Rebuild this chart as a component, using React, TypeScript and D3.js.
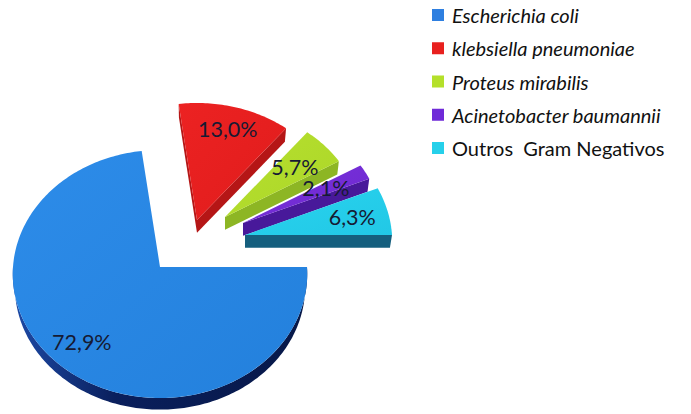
import React from "react";
import * as d3 from "d3";

const categories = [
  "Escherichia coli",
  "klebsiella pneumoniae",
  "Proteus mirabilis",
  "Acinetobacter baumannii",
  "Outros  Gram Negativos",
];
const values = [72.9, 13.0, 5.7, 2.1, 6.3];
const valueLabels = ["72,9%", "13,0%", "5,7%", "2,1%", "6,3%"];
const italicNames = [true, true, true, true, false];

// styling
const topColors = ["#2d8ce9", "#ec2222", "#b7e02f", "#7a32dc", "#29d3ee"];
const topColors2 = ["#2380dc", "#e01c1c", "#abd628", "#6d28cf", "#22c8e6"];
const sideColors = ["#0a1f5c", "#b51616", "#8db624", "#48199a", "#155f7e"];
const legendColors = ["#2e7fe0", "#e8201e", "#b4e02a", "#6f2ad8", "#26d0ea"];
// explosion shift (screen px) and radius scale per slice
const explodeDx = [0, 37, 65, 83, 85];
const explodeDy = [0, -47, -50, -44, -32];
const radiusScale = [1, 1, 0.92, 0.95, 1];
const labelRadius = [0.78, 0.8, 0.64, 0.64, 0.75];

const W = 691;
const H = 414;
const CX = 160;
const CY = 267;
const K = 147;
const SIN_A = 0.841;
const COS_A = 0.541;
const PERSP = 0.1044;
const THICK = 0.163;

function proj(theta: number, r: number, bottom: boolean, i: number): [number, number] {
  const s = radiusScale[i];
  const X = r * s * Math.sin(theta);
  const Z = r * s * Math.cos(theta);
  const Y = bottom ? -THICK : 0;
  const depth = 1 + PERSP * (Z * COS_A - Y * SIN_A);
  return [
    CX + explodeDx[i] + (K * X) / depth,
    CY + explodeDy[i] - (K * (Y * COS_A + Z * SIN_A)) / depth,
  ];
}

function arcPts(a0: number, a1: number, bottom: boolean, i: number) {
  const n = Math.max(2, Math.ceil(Math.abs(a1 - a0) / (Math.PI / 180)));
  const pts: [number, number][] = [];
  for (let k = 0; k <= n; k++) {
    const t = a0 + ((a1 - a0) * k) / n;
    pts.push(proj(t, 1, bottom, i));
  }
  return pts;
}

const line = d3.line();
const closed = (pts: [number, number][]) => (line(pts) || "") + "Z";

export default function App() {
  const arcs = d3
    .pie<number>()
    .sort(null)
    .startAngle(Math.PI / 2)
    .endAngle(Math.PI / 2 + 2 * Math.PI)(values);

  const drawOrder = [0, 1, 2, 3, 4];

  const slices = drawOrder.map((i) => {
    const a = arcs[i];
    const a0 = a.startAngle;
    const a1 = a.endAngle;
    const faces: JSX.Element[] = [];
    const TWO = 2 * Math.PI;
    for (let base = -TWO; base <= TWO * 2; base += TWO) {
      const f0 = Math.max(a0, base + Math.PI / 2);
      const f1 = Math.min(a1, base + (3 * Math.PI) / 2);
      if (f1 > f0) {
        const top = arcPts(f0, f1, false, i);
        const bot = arcPts(f0, f1, true, i).reverse();
        faces.push(
          <path key={"arc" + base} d={closed([...top, ...bot])} fill={`url(#side${i})`} />
        );
      }
    }
    const apexT = proj(0, 0, false, i);
    const apexB = proj(0, 0, true, i);
    const startN = a0 - Math.PI / 2;
    const endN = a1 + Math.PI / 2;
    if (Math.cos(startN) < 0) {
      faces.push(
        <path
          key="s0"
          d={closed([apexT, proj(a0, 1, false, i), proj(a0, 1, true, i), apexB])}
          fill={sideColors[i]}
        />
      );
    }
    if (Math.cos(endN) < 0) {
      faces.push(
        <path
          key="s1"
          d={closed([apexT, proj(a1, 1, false, i), proj(a1, 1, true, i), apexB])}
          fill={sideColors[i]}
        />
      );
    }
    const topPts = [apexT, ...arcPts(a0, a1, false, i)];
    faces.push(<path key="top" d={closed(topPts)} fill={`url(#top${i})`} />);
    return <g key={i}>{faces}</g>;
  });

  const labels = arcs.map((a, i) => {
    const mid = (a.startAngle + a.endAngle) / 2;
    const [x, y] = proj(mid, labelRadius[i] / radiusScale[i], false, i);
    return (
      <text
        key={i}
        x={x}
        y={y}
        textAnchor="middle"
        dominantBaseline="central"
        fontFamily="Lato, 'Open Sans', sans-serif"
        fontSize={21.5}
        fill="#161a33"
      >
        {valueLabels[i]}
      </text>
    );
  });

  const legendY = d3.scalePoint<number>().domain(d3.range(categories.length)).range([15, 148]);

  return (
    <svg
      width={W}
      height={H}
      style={{ position: "absolute", left: 0, top: 0, background: "#fff" }}
    >
      <defs>
        {topColors.map((c, i) => (
          <linearGradient key={"t" + i} id={`top${i}`} x1="0" y1="0" x2="1" y2="1">
            <stop offset="0" stopColor={c} />
            <stop offset="1" stopColor={topColors2[i]} />
          </linearGradient>
        ))}
        {sideColors.map((c, i) => (
          <linearGradient key={"s" + i} id={`side${i}`} x1="0" y1="0" x2="1" y2="0">
            <stop offset="0" stopColor={i === 0 ? "#1d4aa6" : c} />
            <stop offset="0.35" stopColor={c} />
            <stop offset="1" stopColor={i === 0 ? "#071848" : c} />
          </linearGradient>
        ))}
      </defs>
      {slices}
      {labels}
      <g>
        {categories.map((c, i) => (
          <g key={c} transform={`translate(432,${legendY(i)})`}>
            <rect x={0} y={-6} width={12} height={12} fill={legendColors[i]} />
            <text
              x={20}
              y={0}
              dominantBaseline="central"
              fontFamily="Lato, 'Open Sans', sans-serif"
              fontSize={20}
              fontStyle={italicNames[i] ? "italic" : "normal"}
              fill="#111"
              style={{ whiteSpace: "pre" }}
            >
              {c}
            </text>
          </g>
        ))}
      </g>
    </svg>
  );
}
